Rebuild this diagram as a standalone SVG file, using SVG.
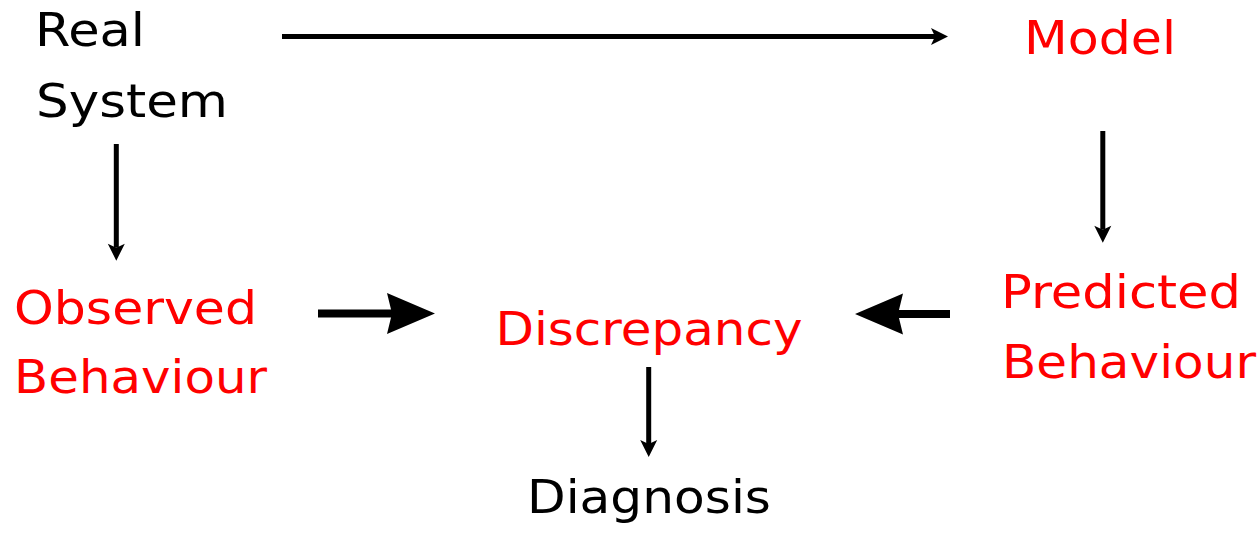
<svg xmlns="http://www.w3.org/2000/svg" width="1259" height="539" viewBox="0 0 1259 539">
  <style>
    text { font-family: "DejaVu Sans", "Liberation Sans", sans-serif; font-size: 46px; }
    .black { fill: #000000; }
    .red { fill: #ff0000; }
    .thin { stroke: #000000; stroke-width: 5; fill: none; marker-end: url(#headThin); }
    .thick { stroke: #000000; stroke-width: 8; fill: none; marker-end: url(#headThick); }
  </style>
  <defs>
    <!-- arrowheads: reference point sits at the notch, tip points forward -->
    <marker id="headThin" markerUnits="userSpaceOnUse" viewBox="-6 -10 20 20" refX="0" refY="0" markerWidth="20" markerHeight="20" orient="auto">
      <path d="M13,0 L-4,-8.5 L0,0 L-4,8.5 Z" fill="#000000"/>
    </marker>
    <marker id="headThick" markerUnits="userSpaceOnUse" viewBox="-7 -22 52 44" refX="0" refY="0" markerWidth="52" markerHeight="44" orient="auto">
      <path d="M43,0 L-5,-20.5 L0,0 L-5,20.5 Z" fill="#000000"/>
    </marker>
  </defs>

  <g id="connectors">
    <line class="thin" x1="282" y1="36.5" x2="935" y2="36.5"/>
    <line class="thin" x1="116.3" y1="144" x2="116.3" y2="247.7"/>
    <line class="thin" x1="1102.8" y1="131" x2="1102.8" y2="229.7"/>
    <line class="thick" x1="318" y1="313.5" x2="392" y2="313.5"/>
    <line class="thick" x1="950" y1="314" x2="898" y2="314"/>
    <line class="thin" x1="648.7" y1="367" x2="648.7" y2="444"/>
  </g>

  <g id="real-system">
    <text class="black" x="35" y="46" textLength="110" lengthAdjust="spacingAndGlyphs">Real</text>
    <text class="black" x="36" y="117" textLength="192" lengthAdjust="spacingAndGlyphs">System</text>
  </g>
  <g id="model">
    <text class="red" x="1024" y="54" textLength="152" lengthAdjust="spacingAndGlyphs">Model</text>
  </g>
  <g id="observed-behaviour">
    <text class="red" x="14" y="324" textLength="243" lengthAdjust="spacingAndGlyphs">Observed</text>
    <text class="red" x="14" y="393" textLength="253" lengthAdjust="spacingAndGlyphs">Behaviour</text>
  </g>
  <g id="predicted-behaviour">
    <text class="red" x="1001" y="308" textLength="240" lengthAdjust="spacingAndGlyphs">Predicted</text>
    <text class="red" x="1002" y="378" textLength="254" lengthAdjust="spacingAndGlyphs">Behaviour</text>
  </g>
  <g id="discrepancy">
    <text class="red" x="495.5" y="345" textLength="307" lengthAdjust="spacingAndGlyphs">Discrepancy</text>
  </g>
  <g id="diagnosis">
    <text class="black" x="527" y="513" textLength="244" lengthAdjust="spacingAndGlyphs">Diagnosis</text>
  </g>
</svg>
